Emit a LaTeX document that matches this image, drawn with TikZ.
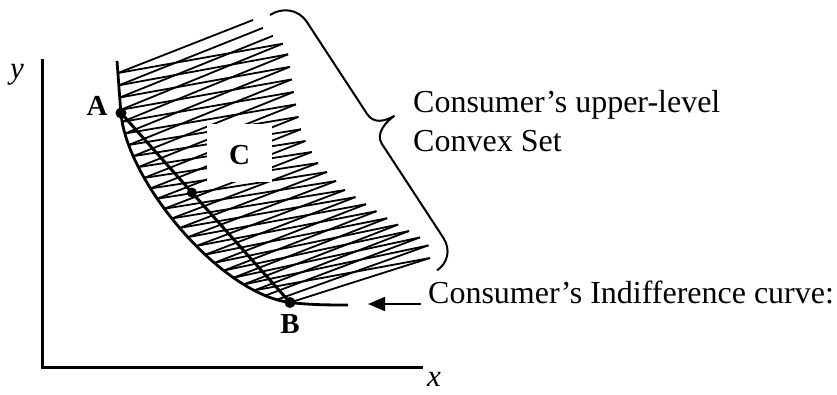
\documentclass[tikz,border=0pt]{standalone}
\usepackage{fontspec}
\setmainfont{Liberation Serif}
\usetikzlibrary{arrows.meta,calc}
\begin{document}
\begin{tikzpicture}[x=1pt,y=-1pt,
  axis/.style={line width=3pt},
  icurve/.style={line width=2.8pt},
  chord/.style={line width=3pt},
  hatch/.style={line width=1.8pt},
  dot/.style={circle, fill=black, inner sep=0pt, minimum size=11pt},
  ptlabel/.style={font=\fontsize{29}{34}\selectfont\bfseries, inner sep=0pt, anchor=base},
  axlabel/.style={font=\fontsize{31}{36}\selectfont\itshape, inner sep=0pt, anchor=base},
  txt/.style={font=\fontsize{32}{38}\selectfont, inner sep=0pt, anchor=base west},
  bracestyle/.style={line width=2pt},
  pointer/.style={line width=2pt, -{Triangle[length=17pt,width=14pt]}},
]
\useasboundingbox (0,0) rectangle (837,394);

% axes
\coordinate (Ytop) at (42,59);
\coordinate (O) at (42,367);
\coordinate (Xend) at (423,367);
\draw[axis] (Ytop) -- (O) -- (Xend);
\node[axlabel] (ylab) at (17,78) {y};
\node[axlabel] (xlab) at (434,386) {x};

% key points of the indifference curve
\coordinate (Ctop) at (117,61);
\coordinate (Apt) at (121,113);
\coordinate (Bpt) at (290,302.5);
\coordinate (Cend) at (348,305);
\coordinate (K1) at (126.2,180.1);
\coordinate (K2) at (219.5,293.5);

% hatch end points: left (on the curve) and right (outer edge)
\foreach \px/\py [count=\i from 0] in {118/73,118.9/85.3,119.8/97.5,120.8/109.8}
  {\coordinate (L\i) at (\px,\py);}
\foreach \t [count=\i from 4] in {0.0427,0.0963,0.1465,0.194,0.2394,0.2839,0.327,0.3693,0.411,0.452,0.493,0.534,0.575,0.617,0.659,0.7016,0.745,0.7903,0.837,0.8865,0.939,1}
  {\path (Apt) .. controls (K1) and (K2) .. (Bpt) coordinate[pos=\t] (L\i);}
\foreach \px/\py [count=\i from 0] in {253/20,262.9/27.9,272.9/35.8,282.8/43.7,288.1/54.3,289.9/66.8,291.7/79.4,293.6/92.0,295.9/104.4,298.4/116.9,300.9/129.3,305.4/141.0,311.7/152.0,318/163,327.0/172.0,336.0/181.0,345/190,355.5/197.1,366.0/204.2,376.5/211.2,387.1/218.2,398.1/224.6,409.0/231.0,420.0/237.4,428.4/245.4,430/258}
  {\coordinate (R\i) at (\px,\py);}

% hatching
\foreach \i in {0,...,25} { \draw[hatch] (R\i) -- (L\i); }
\foreach \i in {0,...,22} { \pgfmathtruncatemacro\j{\i+3} \draw[hatch] (L\i) -- (R\j); }

% clear area for C
\fill[white] (207,124) rectangle (272,182);
\node[ptlabel] (Clab) at (239.5,164) {C};

% indifference curve
\draw[icurve] (Ctop) .. controls (118.5,80) and (119.8,100) .. (Apt)
  .. controls (K1) and (K2) .. (Bpt)
  .. controls (310,304.9) and (330,305) .. (Cend);

% chord and points
\draw[chord] (Apt) -- (Bpt);
\node[dot] (A) at (Apt) {};
\node[dot] (B) at (Bpt) {};
\node[dot, minimum size=10pt] (M) at ($(Apt)!0.42!(Bpt)$) {};
\node[ptlabel] (Alab) at (97,115) {A};
\node[ptlabel] (Blab) at (290,333) {B};

% brace
\draw[bracestyle] (270,15) .. controls (281.7,7.3) and (298.1,8.6) .. (306.9,22.0)
  -- (367.1,114.0) .. controls (373.7,124.1) and (385.1,121.4) .. (394.5,115.7)
  .. controls (385.5,122.1) and (375.3,133.8) .. (381.9,143.9)
  -- (443.2,237.6) .. controls (451.5,250.2) and (447.1,263.7) .. (437.1,270.3);

% texts
\node[txt] (ul1) at (413,112) {Consumer’s upper-level};
\node[txt] (ul2) at (413,151) {Convex Set};
\node[txt] (icl) at (428,303) {Consumer’s Indifference curve:};
\coordinate (arrS) at (421,304);
\coordinate (arrE) at (368,304);
\draw[pointer] (arrS) -- (arrE);
\end{tikzpicture}
\end{document}
